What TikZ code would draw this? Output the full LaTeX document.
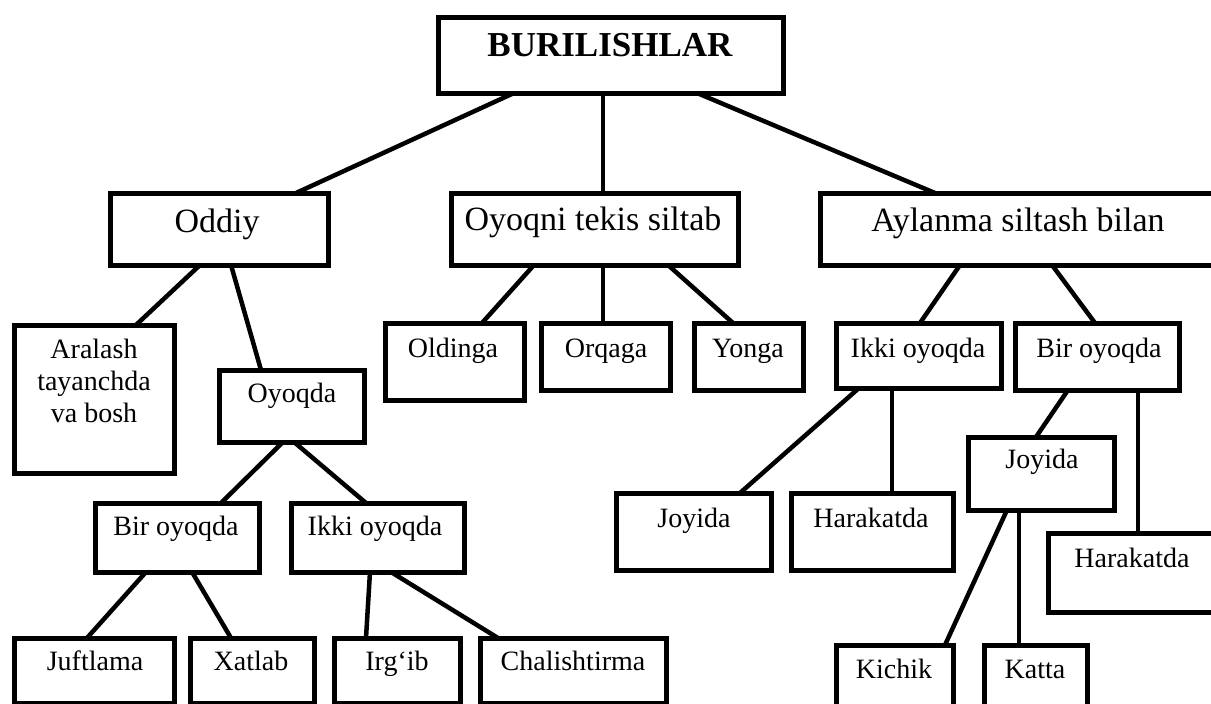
\documentclass[tikz,border=0pt]{standalone}
\usepackage{fontspec}
\setmainfont{Liberation Serif}
\usetikzlibrary{calc}
\newcommand\mybox[5]{\node[box, minimum width={(#4)-(#2)}, minimum height={(#5)-(#3)}] (#1) at ({((#2)+(#4))/2},{((#3)+(#5))/2}) {};}
\tikzset{
  box/.style={draw, line width=5pt, inner sep=0pt, outer sep=0pt},
  conn/.style={line width=4.5pt},
  big/.style={font={\fontsize{34}{40}\selectfont}, inner sep=0pt, anchor=base},
  bigb/.style={font={\fontsize{35}{40}\selectfont\bfseries}, inner sep=0pt, anchor=base},
  small/.style={font={\fontsize{28}{32}\selectfont}, inner sep=0pt, anchor=base},
}
\begin{document}
\begin{tikzpicture}[x=1pt,y=-1pt]
\useasboundingbox (0,0) rectangle (1211,704);
\clip (0,0) rectangle (1211,704);
% boxes
\mybox{top}{438}{17}{783}{93}
\mybox{oddiy}{110}{193}{328}{265}
\mybox{tekis}{451}{193}{738}{265}
\mybox{aylanma}{820}{193}{1240}{265}
\mybox{aralash}{14}{325}{174}{473}
\mybox{oyoqda}{219}{370}{364}{442}
\mybox{birL}{95}{503}{259}{572}
\mybox{ikkiL}{291}{503}{464}{572}
\mybox{juft}{14}{638}{174}{703}
\mybox{xat}{190}{638}{314}{703}
\mybox{irg}{334}{638}{460}{703}
\mybox{chal}{480}{638}{666}{703}
\mybox{oldinga}{385}{323}{524}{400}
\mybox{orqaga}{541}{323}{670}{390}
\mybox{yonga}{694}{323}{803}{390}
\mybox{ikkiR}{836}{323}{1001}{388}
\mybox{birR}{1015}{323}{1179}{390}
\mybox{joyL}{616}{493}{771}{570}
\mybox{harL}{791}{493}{953}{570}
\mybox{joyR}{968}{437}{1114}{510}
\mybox{harR}{1048}{533}{1240}{612}
\mybox{kichik}{836}{645}{953}{706}
\mybox{katta}{984}{645}{1087}{706}
% labels
\node[bigb] (topt) at (610,56) {BURILISHLAR};
\node[big] (oddiyt) at (217,232) {Oddiy};
\node[big] (tekist) at (593,230) {Oyoqni tekis siltab};
\node[big] (aylanmat) at (1018,231) {Aylanma siltash bilan};
\node[small, anchor=north, align=center, font={\fontsize{28}{32}\selectfont}] (aralasht) at (94,339) {Aralash\\tayanchda\\va bosh};
\node[small] (oyoqdat) at (292,402) {Oyoqda};
\node[small] (birLt) at (176,535) {Bir oyoqda};
\node[small] (ikkiLt) at (375,535) {Ikki oyoqda};
\node[small] (juftt) at (95,670) {Juftlama};
\node[small] (xatt) at (251,670) {Xatlab};
\node[small] (irgt) at (397,670) {Irg‘ib};
\node[small] (chalt) at (573,670) {Chalishtirma};
\node[small] (oldingat) at (453,357) {Oldinga};
\node[small] (orqagat) at (606,357) {Orqaga};
\node[small] (yongat) at (748,357) {Yonga};
\node[small] (ikkiRt) at (918,357) {Ikki oyoqda};
\node[small] (birRt) at (1099,357) {Bir oyoqda};
\node[small] (joyLt) at (694,527) {Joyida};
\node[small] (harLt) at (871,527) {Harakatda};
\node[small] (joyRt) at (1042,468) {Joyida};
\node[small] (harRt) at (1132,567) {Harakatda};
\node[small] (kichikt) at (894,678) {Kichik};
\node[small] (kattat) at (1035,678) {Katta};
% connectors
\draw[conn] ($(top.south west)+(76,0)$) -- ($(oddiy.north west)+(186,0)$);
\draw[conn] ($(top.south west)+(165,0)$) -- ($(tekis.north west)+(152,0)$);
\draw[conn] ($(top.south west)+(259,0)$) -- ($(aylanma.north west)+(115,0)$);
\draw[conn] ($(oddiy.south west)+(90,0)$) -- ($(aralash.north west)+(122,0)$);
\draw[conn] ($(oddiy.south west)+(121,0)$) -- ($(oyoqda.north west)+(42,0)$);
\draw[conn] ($(oyoqda.south west)+(64,0)$) -- ($(birL.north west)+(126,0)$);
\draw[conn] ($(oyoqda.south west)+(75,0)$) -- ($(ikkiL.north west)+(75,0)$);
\draw[conn] ($(birL.south west)+(51,0)$) -- ($(juft.north west)+(73,0)$);
\draw[conn] ($(birL.south west)+(97,0)$) -- ($(xat.north west)+(41,0)$);
\draw[conn] ($(ikkiL.south west)+(79,0)$) -- ($(irg.north west)+(32,0)$);
\draw[conn] ($(ikkiL.south west)+(100,0)$) -- ($(chal.north west)+(18,0)$);
\draw[conn] ($(tekis.south west)+(83,0)$) -- ($(oldinga.north west)+(97,0)$);
\draw[conn] ($(tekis.south west)+(152,0)$) -- ($(orqaga.north west)+(62,0)$);
\draw[conn] ($(tekis.south west)+(217,0)$) -- ($(yonga.north west)+(39,0)$);
\draw[conn] ($(aylanma.south west)+(140,0)$) -- ($(ikkiR.north west)+(84,0)$);
\draw[conn] ($(aylanma.south west)+(232,0)$) -- ($(birR.north west)+(80,0)$);
\draw[conn] ($(ikkiR.south west)+(23,0)$) -- ($(joyL.north west)+(124,0)$);
\draw[conn] ($(ikkiR.south west)+(56,0)$) -- ($(harL.north west)+(101,0)$);
\draw[conn] ($(birR.south west)+(53,0)$) -- ($(joyR.north west)+(68,0)$);
\draw[conn] ($(birR.south west)+(123,0)$) -- ($(harR.north west)+(90,0)$);
\draw[conn] ($(joyR.south west)+(39,0)$) -- ($(kichik.north west)+(109,0)$);
\draw[conn] ($(joyR.south west)+(51,0)$) -- ($(katta.north west)+(35,0)$);
\end{tikzpicture}
\end{document}
